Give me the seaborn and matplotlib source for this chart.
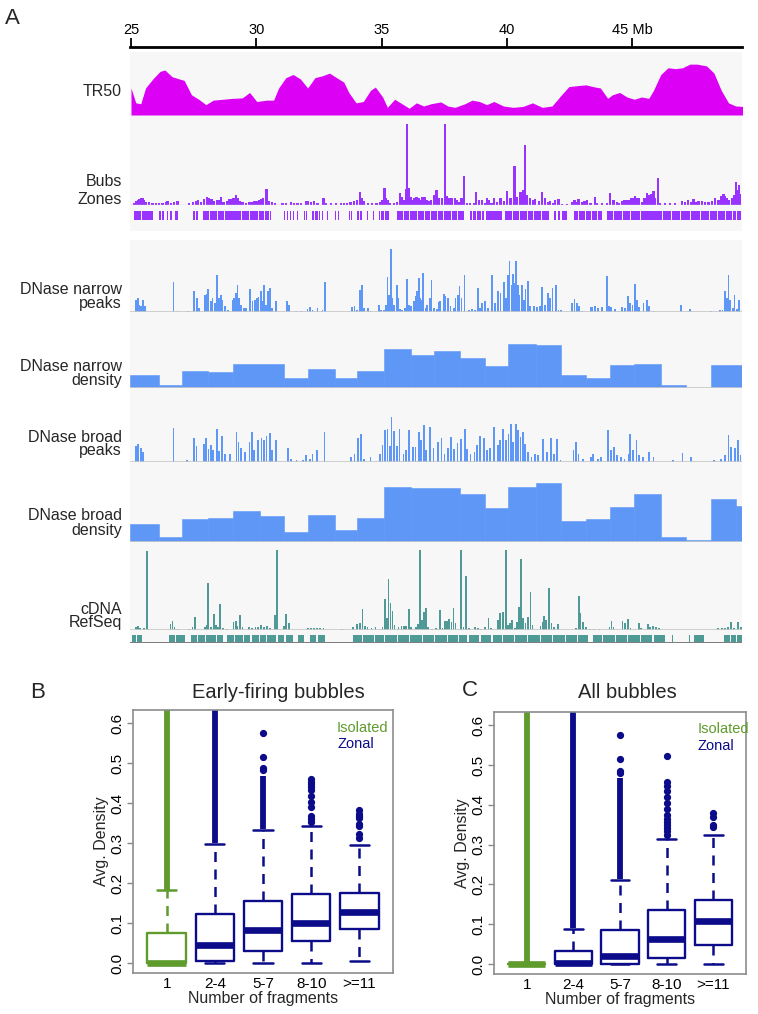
import matplotlib
matplotlib.use('Agg')
import matplotlib.pyplot as plt
import seaborn as sns

# ---------------- Panel A data (positions in Mb, heights in track units) ----------------
ruler_ticks = [25, 30, 35, 40, 45]
ruler_labels = ['25', '30', '35', '40', '45 Mb']

tr50_mb = [25.0, 25.19, 25.39, 25.58, 25.87, 26.16, 26.35, 26.64, 26.93, 27.12, 27.41, 27.70, 27.99, 28.28,
           28.67, 29.05, 29.44, 29.73, 30.02, 30.41, 30.69, 30.89, 31.18, 31.47, 31.76, 32.05, 32.34, 32.63,
           32.92, 33.20, 33.49, 33.69, 33.98, 34.27, 34.56, 34.75, 35.04, 35.23, 35.52, 35.81, 36.10, 36.39,
           36.68, 36.97, 37.36, 37.64, 37.93, 38.32, 38.61, 38.90, 39.19, 39.48, 39.86, 40.25, 40.64, 41.02,
           41.41, 41.80, 42.18, 42.47, 42.76, 43.15, 43.44, 43.73, 44.02, 44.21, 44.50, 44.79, 45.08, 45.37,
           45.66, 45.85, 46.14, 46.43, 46.72, 47.01, 47.30, 47.59, 47.97, 48.26, 48.55, 48.84, 49.13, 49.42]
tr50_val = [60, 27, 25, 60, 80, 97, 100, 85, 80, 77, 45, 35, 23, 33,
            35, 37, 38, 50, 30, 33, 33, 60, 83, 90, 80, 60, 83, 87,
            93, 83, 73, 50, 27, 30, 55, 62, 40, 17, 35, 25, 15, 27,
            20, 25, 29, 20, 17, 25, 33, 30, 23, 30, 20, 17, 19, 27,
            17, 20, 45, 63, 65, 67, 63, 60, 37, 45, 50, 40, 35, 40,
            37, 55, 90, 105, 103, 105, 113, 113, 109, 93, 55, 27, 20, 19]

bubs_peaks = [
    (25.13, 3), (25.20, 5), (25.27, 6), (25.33, 7), (25.40, 8), (25.46, 9), (25.53, 6), (25.60, 4), (25.73, 4),
    (25.86, 3), (26.00, 3), (26.13, 3), (26.26, 3), (26.39, 4), (26.46, 5), (26.59, 3), (26.73, 4), (26.86, 5),
    (27.32, 3), (27.46, 4), (27.59, 5), (27.66, 6), (27.79, 4), (27.90, 7), (28.03, 10), (28.12, 8), (28.21, 7),
    (28.32, 5), (28.43, 6), (28.52, 6), (28.59, 10), (28.69, 4), (28.82, 5), (28.92, 7), (28.98, 7), (29.09, 8),
    (29.18, 12), (29.25, 9), (29.36, 5), (29.45, 4), (29.58, 3), (29.71, 4), (29.81, 4), (29.91, 5), (30.01, 5),
    (30.11, 6), (30.21, 7), (30.27, 8), (30.41, 20), (30.51, 5), (30.64, 4), (30.74, 3),
    (31.04, 3), (31.18, 3), (31.37, 4), (31.51, 3), (31.64, 3), (31.77, 3), (31.97, 5), (32.06, 5), (32.17, 4),
    (32.30, 5), (32.44, 3), (32.68, 8), (32.77, 3), (32.97, 3), (33.17, 3), (33.37, 3), (33.50, 3),
    (33.63, 3), (33.76, 4), (33.90, 5), (34.03, 6), (34.14, 16), (34.23, 8), (34.30, 5), (34.46, 3), (34.63, 3),
    (34.80, 3), (34.96, 4), (35.03, 6), (35.12, 21), (35.17, 8), (35.23, 6), (35.33, 3), (35.49, 3), (35.62, 4),
    (35.73, 15), (35.82, 10), (35.89, 6), (35.96, 20), (36.02, 100), (36.09, 21), (36.16, 10), (36.23, 6),
    (36.31, 8), (36.39, 10), (36.47, 8), (36.55, 6), (36.63, 10), (36.71, 10), (36.79, 6), (36.89, 5), (36.98, 6),
    (37.11, 12), (37.19, 18), (37.28, 8), (37.42, 8), (37.52, 100), (37.61, 11), (37.71, 9), (37.81, 8),
    (37.92, 9), (38.01, 6), (38.11, 4), (38.19, 8), (38.28, 36), (38.41, 3), (38.54, 2), (38.68, 3), (38.77, 16),
    (38.88, 6), (39.01, 6), (39.12, 3), (39.21, 9), (39.27, 6), (39.38, 3), (39.47, 9), (39.61, 4), (39.74, 8),
    (39.87, 5), (40.01, 17), (40.14, 8), (40.30, 48), (40.40, 10), (40.54, 16), (40.63, 18), (40.71, 74),
    (40.80, 12), (40.93, 8), (41.03, 6), (41.13, 7), (41.27, 5), (41.40, 16), (41.53, 8), (41.64, 4), (41.73, 5),
    (41.86, 3), (41.93, 6), (42.06, 7), (42.20, 1), (42.40, 1), (42.59, 4), (42.70, 6), (42.79, 4), (42.86, 7),
    (42.99, 4), (43.10, 5), (43.19, 6), (43.33, 3), (43.50, 10), (43.59, 3), (43.79, 2), (43.99, 3), (44.12, 15),
    (44.25, 6), (44.39, 4), (44.48, 3), (44.59, 5), (44.69, 6), (44.79, 6), (44.85, 6), (44.96, 8), (45.04, 8),
    (45.12, 11), (45.20, 9), (45.28, 8), (45.38, 4), (45.49, 8), (45.60, 15), (45.68, 12), (45.76, 14),
    (45.85, 17), (45.91, 8), (46.02, 33), (46.11, 3), (46.31, 2), (46.51, 2), (46.71, 2), (46.98, 5), (47.11, 4),
    (47.24, 6), (47.35, 4), (47.44, 7), (47.53, 4), (47.64, 5), (47.77, 5), (47.91, 4), (48.04, 4), (48.17, 5),
    (48.31, 8), (48.44, 6), (48.54, 11), (48.64, 14), (48.70, 11), (48.78, 8), (48.86, 6), (48.97, 8),
    (49.05, 12), (49.14, 28), (49.21, 18), (49.26, 25), (49.31, 13)]

zones = [(25.10, 25.38), (25.42, 25.62), (25.65, 25.86), (26.13, 26.18), (26.25, 26.33), (26.43, 26.47),
         (26.55, 26.62), (26.77, 26.86), (27.47, 27.56), (27.60, 27.66), (27.86, 28.10), (28.14, 28.45),
         (28.49, 28.70), (28.74, 29.05), (29.08, 29.40), (29.44, 29.70), (29.73, 30.05), (30.09, 30.30),
         (30.34, 30.52), (30.56, 30.60), (30.77, 30.80), (31.10, 31.13), (31.22, 31.26), (31.34, 31.37),
         (31.45, 31.52), (31.62, 31.66), (31.90, 31.94), (31.98, 32.04), (32.24, 32.30), (32.34, 32.45),
         (32.50, 32.56), (32.62, 32.66), (32.82, 32.86), (33.12, 33.16), (33.24, 33.30), (33.70, 33.74),
         (33.78, 33.83), (34.03, 34.10), (34.15, 34.23), (34.41, 34.45), (34.67, 34.71), (34.88, 34.95),
         (34.99, 35.10), (35.14, 35.29), (35.62, 35.85), (35.88, 36.10), (36.14, 36.40), (36.44, 36.70),
         (36.74, 36.95), (36.99, 37.20), (37.24, 37.45), (37.48, 37.75), (37.79, 38.00), (38.04, 38.28),
         (38.54, 38.60), (38.66, 38.75), (38.80, 38.95), (38.99, 39.10), (39.15, 39.35), (39.38, 39.55),
         (39.58, 39.80), (39.94, 40.20), (40.23, 40.50), (40.53, 40.80), (40.84, 41.05), (41.09, 41.35),
         (41.39, 41.67), (41.86, 41.97), (42.02, 42.12), (42.18, 42.40), (42.66, 42.85), (42.89, 43.10),
         (43.14, 43.35), (43.40, 43.60), (43.64, 43.79), (43.99, 44.25), (44.29, 44.60), (44.64, 44.90),
         (44.94, 45.30), (45.33, 46.20), (46.24, 46.55), (46.59, 46.90), (46.94, 47.30), (47.34, 47.70),
         (47.74, 48.05), (48.09, 48.40), (48.44, 48.70), (48.74, 49.00), (49.04, 49.15), (49.20, 49.34)]

narrow_peaks = [
    (25.20, 37), (25.27, 42), (25.33, 22), (25.40, 17), (25.49, 37), (25.56, 17), (26.70, 89), (26.86, 4),
    (27.26, 4), (27.52, 64), (27.62, 42), (27.72, 12), (27.95, 50), (28.03, 54), (28.08, 68), (28.19, 32),
    (28.25, 42), (28.35, 27), (28.43, 112), (28.52, 42), (28.59, 50), (28.65, 37), (28.74, 17), (28.88, 7),
    (29.05, 37), (29.12, 42), (29.18, 57), (29.25, 80), (29.32, 42), (29.38, 22), (29.52, 12), (29.58, 12),
    (29.75, 68), (29.85, 34), (29.94, 37), (30.02, 42), (30.09, 44), (30.18, 62), (30.25, 34), (30.31, 80),
    (30.38, 22), (30.47, 62), (30.55, 72), (30.64, 12), (30.78, 34), (31.22, 32), (31.31, 22), (31.57, 4),
    (31.77, 4), (32.04, 10), (32.14, 14), (32.24, 7), (32.44, 12), (32.64, 7), (32.73, 89), (33.83, 14),
    (33.92, 17), (34.03, 6), (34.14, 67), (34.23, 80), (34.30, 12), (34.46, 12), (34.56, 4), (34.89, 22),
    (34.99, 6), (35.09, 7), (35.16, 22), (35.23, 104), (35.29, 52), (35.36, 190), (35.42, 42), (35.49, 22),
    (35.60, 82), (35.66, 42), (35.73, 10), (35.82, 7), (35.92, 12), (36.00, 99), (36.09, 22), (36.18, 17),
    (36.29, 34), (36.35, 47), (36.42, 64), (36.49, 102), (36.55, 42), (36.62, 37), (36.66, 118), (36.75, 12),
    (36.82, 22), (36.93, 42), (36.99, 97), (37.08, 12), (37.22, 10), (37.27, 29), (37.34, 32), (37.48, 54),
    (37.55, 47), (37.65, 42), (37.75, 17), (37.88, 12), (37.95, 42), (38.05, 50), (38.11, 77), (38.19, 42),
    (38.31, 110), (38.48, 7), (38.61, 10), (38.74, 7), (38.84, 72), (38.94, 12), (39.01, 27), (39.14, 34),
    (39.25, 12), (39.41, 110), (39.51, 27), (39.63, 64), (39.74, 57), (39.87, 89), (39.97, 42), (40.05, 112),
    (40.10, 152), (40.18, 82), (40.23, 114), (40.31, 87), (40.36, 152), (40.44, 82), (40.50, 52), (40.60, 82),
    (40.67, 37), (40.74, 70), (40.84, 94), (40.93, 17), (41.07, 17), (41.20, 14), (41.33, 17), (41.40, 75),
    (41.51, 22), (41.64, 57), (41.73, 42), (41.82, 72), (41.96, 82), (42.06, 7), (42.17, 6), (42.59, 27),
    (42.70, 40), (42.79, 27), (42.89, 17), (42.99, 4), (43.33, 14), (43.39, 14), (43.50, 17), (43.63, 12),
    (43.79, 14), (43.99, 108), (44.06, 17), (44.16, 14), (44.32, 10), (44.45, 4), (44.59, 14), (44.72, 12),
    (44.83, 47), (44.92, 27), (45.01, 22), (45.12, 85), (45.18, 37), (45.28, 14), (45.45, 27), (45.58, 37),
    (45.68, 17), (45.85, 4), (46.95, 20), (47.31, 9), (48.15, 4), (48.50, 6), (48.60, 7), (48.70, 64),
    (48.77, 42), (48.84, 112), (48.90, 37), (49.01, 12), (49.08, 50), (49.17, 10), (49.26, 37)]

narrow_density_edges = [24.96, 26.10, 27.03, 28.09, 29.05, 31.12, 32.07, 33.13, 34.03, 35.08, 36.16, 37.10,
                        38.13, 39.13, 40.06, 41.16, 42.14, 43.15, 44.11, 45.08, 46.16, 47.16, 48.13, 49.40]
narrow_density = [38, 8, 50, 48, 72, 30, 56, 30, 50, 118, 100, 110, 91, 67, 131, 128, 40, 30, 68, 72, 8, 0, 70]

broad_peaks = [
    (25.19, 47), (25.29, 53), (25.39, 43), (25.48, 30), (26.70, 102), (27.22, 7), (27.51, 72), (27.61, 47),
    (27.90, 55), (27.99, 72), (28.09, 40), (28.19, 50), (28.28, 35), (28.42, 100), (28.51, 33), (28.63, 78),
    (28.76, 25), (28.96, 25), (29.21, 90), (29.29, 60), (29.40, 43), (29.54, 30), (29.73, 60), (29.83, 90),
    (29.92, 35), (30.06, 65), (30.21, 72), (30.31, 67), (30.41, 77), (30.54, 87), (30.64, 35), (30.79, 65),
    (31.27, 43), (31.37, 10), (31.60, 5), (31.85, 7), (31.99, 20), (32.14, 10), (32.24, 25), (32.43, 35),
    (32.72, 90), (33.78, 15), (33.92, 25), (34.07, 72), (34.17, 83), (34.31, 10), (34.56, 15), (34.94, 25),
    (35.04, 50), (35.14, 95), (35.23, 100), (35.33, 47), (35.39, 135), (35.48, 92), (35.62, 47), (35.71, 100),
    (35.87, 25), (35.97, 35), (36.10, 95), (36.24, 45), (36.35, 45), (36.49, 90), (36.58, 65), (36.68, 110),
    (36.78, 35), (36.93, 105), (37.07, 43), (37.26, 60), (37.39, 72), (37.51, 25), (37.64, 43), (37.78, 75),
    (37.90, 40), (38.03, 57), (38.17, 70), (38.32, 98), (38.42, 40), (38.55, 25), (38.71, 30), (38.80, 50),
    (38.94, 77), (39.09, 73), (39.19, 35), (39.32, 43), (39.48, 105), (39.63, 50), (39.71, 65), (39.83, 100),
    (39.96, 67), (40.06, 85), (40.15, 115), (40.25, 60), (40.35, 115), (40.44, 95), (40.54, 75), (40.64, 90),
    (40.73, 55), (40.83, 30), (40.98, 15), (41.12, 25), (41.25, 20), (41.45, 70), (41.60, 30), (41.76, 73),
    (41.89, 25), (41.99, 70), (42.14, 5), (42.66, 35), (42.76, 60), (42.86, 25), (43.05, 10), (43.34, 15),
    (43.44, 25), (43.63, 10), (43.76, 15), (44.02, 95), (44.15, 35), (44.27, 45), (44.40, 20), (44.54, 15),
    (44.69, 10), (44.85, 25), (44.92, 85), (45.04, 35), (45.17, 65), (45.27, 20), (45.42, 15), (45.66, 30),
    (45.85, 15), (46.62, 5), (47.01, 27), (47.36, 15), (48.26, 5), (48.55, 10), (48.71, 22), (48.84, 80),
    (48.94, 45), (49.09, 43), (49.23, 65), (49.32, 22)]

broad_density_edges = [24.96, 26.10, 27.03, 28.09, 29.05, 30.15, 31.12, 32.07, 33.13, 34.03, 35.08, 36.16,
                       38.13, 39.13, 40.06, 41.16, 42.14, 43.15, 44.11, 45.08, 46.16, 47.16, 48.13, 49.16, 49.40]
broad_density = [46, 13, 59, 61, 80, 66, 25, 69, 30, 61, 142, 139, 122, 86, 141, 152, 54, 59, 91, 123, 13, 5,
                 109, 93]

cdna_peaks = [
    (25.20, 8), (25.27, 12), (25.35, 5), (25.51, 5), (25.64, 237), (26.58, 17), (26.66, 27), (26.74, 8),
    (26.88, 2), (27.32, 4), (27.45, 8), (27.56, 38), (27.95, 8), (28.03, 15), (28.08, 140), (28.19, 8),
    (28.30, 48), (28.39, 15), (28.46, 8), (28.55, 78), (28.66, 5), (28.82, 4), (29.09, 25), (29.18, 27),
    (29.24, 13), (29.34, 44), (29.45, 8), (29.72, 10), (29.84, 5), (29.97, 8), (30.08, 10), (30.20, 15),
    (30.31, 8), (30.44, 12), (30.55, 5), (30.76, 45), (30.83, 240), (31.10, 12), (31.18, 47), (31.29, 22),
    (32.05, 6), (32.17, 6), (32.30, 6), (32.42, 6), (32.55, 6), (32.68, 6), (33.42, 4), (33.86, 8), (34.01, 17),
    (34.13, 22), (34.24, 63), (34.33, 12), (34.44, 8), (34.60, 6), (34.76, 8), (35.04, 10), (35.12, 92),
    (35.20, 35), (35.27, 154), (35.35, 80), (35.43, 57), (35.51, 15), (35.67, 8), (35.79, 12), (35.90, 12),
    (35.98, 12), (36.08, 63), (36.17, 8), (36.38, 10), (36.46, 17), (36.53, 240), (36.61, 30), (36.69, 55),
    (36.77, 65), (36.85, 8), (37.01, 4), (37.16, 6), (37.34, 60), (37.43, 7), (37.53, 27), (37.61, 28),
    (37.68, 32), (37.79, 25), (37.87, 65), (37.95, 22), (38.16, 240), (38.27, 10), (38.38, 162), (38.50, 7),
    (38.74, 8), (38.85, 6), (38.98, 2), (39.13, 10), (39.26, 35), (39.37, 5), (39.64, 30), (39.73, 52),
    (39.84, 55), (39.95, 240), (40.05, 15), (40.11, 20), (40.20, 30), (40.31, 5), (40.39, 25), (40.47, 70),
    (40.55, 212), (40.63, 35), (40.74, 22), (40.83, 40), (40.94, 115), (41.02, 15), (41.34, 12), (41.42, 25),
    (41.49, 42), (41.57, 30), (41.68, 125), (41.78, 20), (41.89, 8), (42.05, 18), (42.76, 6), (42.87, 102),
    (42.94, 50), (43.04, 25), (43.15, 8), (43.31, 2), (43.46, 2), (43.67, 2), (44.09, 8), (44.17, 27),
    (44.25, 8), (44.61, 28), (44.72, 22), (44.83, 34), (44.93, 5), (45.28, 20), (45.35, 5), (45.62, 17),
    (45.72, 8), (45.83, 12), (45.94, 8), (46.06, 5), (48.42, 5), (48.58, 5), (48.71, 5), (48.82, 8),
    (48.93, 25), (49.05, 7), (49.21, 25), (49.34, 8)]

refseq = [(25.04, 25.20), (25.24, 25.43), (26.53, 26.75), (26.80, 27.16), (27.40, 27.62), (27.66, 27.95),
          (28.00, 28.40), (28.44, 28.66), (28.82, 29.10), (29.14, 29.45), (29.49, 29.76), (29.84, 30.10),
          (30.14, 30.40), (30.44, 30.79), (30.87, 31.10), (31.18, 31.45), (31.65, 31.89), (32.13, 32.40),
          (32.46, 32.76), (33.86, 34.20), (34.24, 34.70), (34.74, 35.10), (35.14, 35.60), (35.65, 36.10),
          (36.14, 36.60), (36.65, 37.10), (37.14, 37.60), (37.65, 38.05), (38.10, 38.42), (38.50, 38.90),
          (38.95, 39.37), (39.45, 39.80), (39.85, 40.30), (40.34, 40.80), (40.85, 41.30), (41.35, 41.80),
          (41.85, 42.30), (42.35, 42.80), (42.85, 43.23), (43.42, 43.80), (43.85, 44.30), (44.35, 44.80),
          (44.85, 45.30), (45.35, 45.80), (45.85, 46.30), (46.59, 46.63), (47.27, 47.31), (47.48, 47.87),
          (48.66, 48.90), (48.94, 49.15), (49.19, 49.40)]

# ---------------- Panels B / C data (box summaries) ----------------
groups = ['1', '2-4', '5-7', '8-10', '>=11']

early_lo = [0.0, 0.0, 0.0, 0.0, 0.004]
early_q1 = [0.0, 0.004, 0.031, 0.055, 0.084]
early_med = [0.0, 0.045, 0.082, 0.101, 0.127]
early_q3 = [0.074, 0.123, 0.154, 0.172, 0.175]
early_hi = [0.183, 0.298, 0.334, 0.342, 0.296]
early_band = [(0.183, 0.65), (0.300, 0.65), (0.336, 0.467), None, None]
early_dots = [[], [],
              [0.482, 0.4875, 0.515, 0.575],
              [0.353, 0.361, 0.369, 0.39, 0.404, 0.419, 0.433, 0.44, 0.447, 0.453, 0.46],
              [0.312, 0.324, 0.343, 0.349, 0.363, 0.367, 0.374, 0.382]]

all_lo = [0.0, 0.0, 0.0, 0.0, 0.0]
all_q1 = [0.0, 0.0, 0.0, 0.014, 0.047]
all_med = [0.0, 0.002, 0.019, 0.062, 0.108]
all_q3 = [0.0, 0.034, 0.085, 0.136, 0.162]
all_hi = [0.0, 0.089, 0.212, 0.315, 0.324]
all_band = [(0.0, 0.65), (0.091, 0.65), (0.214, 0.468), None, None]
all_dots = [[], [],
            [0.48, 0.485, 0.515, 0.574],
            [0.325, 0.333, 0.341, 0.349, 0.357, 0.365, 0.374, 0.39, 0.405, 0.419, 0.435, 0.446, 0.456, 0.523],
            [0.343, 0.349, 0.370, 0.380]]

# ---------------- style ----------------
W, H = 758, 1014
XMIN, XMAX = 24.96, 49.38
BG = '#f7f7f7'
MAGENTA = '#dc00f5'
PURPLE = '#9933ff'
BLUE = '#5f97f7'
TEAL = '#4f9a96'
GREEN = '#5f9b2d'
NAVY = '#0c0c8a'

sns.set_theme(style='white')
plt.rcParams['font.family'] = ['Liberation Sans', 'DejaVu Sans']

fig = plt.figure(figsize=(W / 100, H / 100), dpi=100)


def px_axes(x0, y0, x1, y1):
    return fig.add_axes([x0 / W, 1 - y1 / H, (x1 - x0) / W, (y1 - y0) / H])


def bg_block(y0, y1):
    ax = px_axes(130, y0, 742, y1)
    ax.set_facecolor(BG)
    ax.set_xticks([])
    ax.set_yticks([])
    for s in ax.spines.values():
        s.set_visible(False)


def track(y0, y1, ytop):
    ax = px_axes(130, y0, 742, y1)
    ax.set_axis_off()
    ax.set_xlim(XMIN, XMAX)
    ax.set_ylim(0, ytop)
    return ax


bg_block(52, 231)
bg_block(240, 643)

# ruler
axr = px_axes(130, 47, 742, 60)
axr.patch.set_alpha(0)
axr.set_xlim(XMIN, XMAX)
for s in ['left', 'right', 'bottom']:
    axr.spines[s].set_visible(False)
axr.spines['top'].set_linewidth(2)
axr.spines['top'].set_color('black')
axr.xaxis.tick_top()
axr.set_xticks(ruler_ticks)
axr.set_xticklabels(ruler_labels)
axr.set_yticks([])
axr.tick_params(axis='x', top=True, direction='out', length=6.5, width=1.3, pad=1,
                labelsize=10.5, colors='black')

# TR50
ax = track(52, 115, 140)
ax.fill_between(tr50_mb, tr50_val, 0, color=MAGENTA, linewidth=0)

# Bubs + Zones
ax = track(118, 205, 107)
bx, bh = zip(*bubs_peaks)
ax.bar(bx, bh, width=0.09, color=PURPLE, linewidth=0)
ax.axhline(0, color='#c8c8c8', lw=1)
ax = track(211, 220, 1)
ax.broken_barh([(a, b - a) for a, b in zones], (0, 1), color=PURPLE, linewidth=0)


def peaks_track(y0, y1, ytop, peaks, color):
    ax = track(y0, y1, ytop)
    px, ph = zip(*peaks)
    ax.bar(px, ph, width=0.07, color=color, linewidth=0)
    ax.axhline(0, color='#c8c8c8', lw=1.2)
    return ax


def density_track(y0, y1, ytop, edges, heights):
    ax = px_axes(130, y0, 742, y1)
    mids = [(a + b) / 2 for a, b in zip(edges[:-1], edges[1:])]
    sns.histplot(x=mids, weights=heights, bins=edges, ax=ax, color=BLUE, alpha=1,
                 element='bars', edgecolor=BLUE, linewidth=0.4)
    ax.set_axis_off()
    ax.set_xlim(XMIN, XMAX)
    ax.set_ylim(0, ytop)
    ax.axhline(0, color='#c8c8c8', lw=1.2)


peaks_track(240, 312, 216, narrow_peaks, BLUE)
density_track(315, 388, 219, narrow_density_edges, narrow_density)
peaks_track(390, 462, 216, broad_peaks, BLUE)
density_track(464, 542, 200, broad_density_edges, broad_density)
peaks_track(543, 630, 261, cdna_peaks, TEAL)

ax = track(635, 643, 1)
ax.set_ylim(-0.15, 1)
ax.broken_barh([(a, b - a) for a, b in refseq], (0, 1), color=TEAL, linewidth=0)
ax.axhline(-0.1, color='#666666', lw=1.2)

# track labels
track_labels = [('TR50', 92), ('Bubs', 182), ('Zones', 199), ('DNase narrow', 290), ('peaks', 303),
                ('DNase narrow', 366), ('density', 380), ('DNase broad', 438), ('peaks', 451),
                ('DNase broad', 516), ('density', 530), ('cDNA', 609), ('RefSeq', 622)]
for txt, y in track_labels:
    fig.text(122 / W, 1 - y / H, txt, ha='right', va='center', fontsize=11.5)

fig.text(12 / W, 1 - 18 / H, 'A', ha='center', va='center', fontsize=16)


# ---------------- box plot panels ----------------
def box_panel(ax, lo, q1, med, q3, hi, bands, dots):
    for i, g in enumerate(groups):
        col = GREEN if i == 0 else NAVY
        st = [dict(med=med[i], q1=q1[i], q3=q3[i], whislo=lo[i], whishi=hi[i], fliers=dots[i])]
        ax.bxp(st, positions=[i + 1], widths=0.8, manage_ticks=False,
               boxprops=dict(color=col, lw=1.7),
               medianprops=dict(color=col, lw=4.8, solid_capstyle='butt'),
               whiskerprops=dict(color=col, lw=1.8, linestyle=(0, (4, 3))),
               capprops=dict(color=col, lw=1.8),
               flierprops=dict(marker='o', markerfacecolor=col, markeredgecolor=col, markersize=4.2))
        if bands[i] is not None:
            ax.vlines(i + 1, bands[i][0], bands[i][1], color=col, lw=4.2)
    ax.set_xlim(0.3, 5.7)
    ax.set_ylim(-0.025, 0.633)
    ax.set_xticks(range(1, 6))
    ax.set_xticklabels(groups)
    ax.set_yticks([0, 0.1, 0.2, 0.3, 0.4, 0.5, 0.6])
    ax.set_yticklabels(['0.0', '0.1', '0.2', '0.3', '0.4', '0.5', '0.6'], rotation=90, va='center')
    ax.tick_params(axis='x', length=0, pad=3, labelsize=11, colors='black')
    ax.tick_params(axis='y', left=True, length=4, width=1, color='#888888', pad=2, labelsize=11,
                   labelcolor='black')
    for s in ax.spines.values():
        s.set_color('#8c8c8c')
        s.set_linewidth(1.2)
    ax.set_facecolor('white')
    ax.set_xlabel('Number of fragments', fontsize=11.5, labelpad=0)
    ax.set_ylabel('Avg. Density', fontsize=11.5, labelpad=1)


axB = px_axes(133, 710, 393, 973)
box_panel(axB, early_lo, early_q1, early_med, early_q3, early_hi, early_band, early_dots)
axC = px_axes(494, 712, 746, 974)
box_panel(axC, all_lo, all_q1, all_med, all_q3, all_hi, all_band, all_dots)

fig.text(278 / W, 1 - 692 / H, 'Early-firing bubbles', ha='center', va='center', fontsize=14.5)
fig.text(627 / W, 1 - 692 / H, 'All bubbles', ha='center', va='center', fontsize=14.5)
fig.text(38 / W, 1 - 692 / H, 'B', ha='center', va='center', fontsize=16)
fig.text(470 / W, 1 - 691 / H, 'C', ha='center', va='center', fontsize=16)

for x, y0, y1 in [(337, 728, 744), (698, 729, 746)]:
    fig.text(x / W, 1 - y0 / H, 'Isolated', ha='left', va='center', fontsize=10.5, color=GREEN)
    fig.text(x / W, 1 - y1 / H, 'Zonal', ha='left', va='center', fontsize=10.5, color=NAVY)

fig.savefig('out.png', dpi=100)
